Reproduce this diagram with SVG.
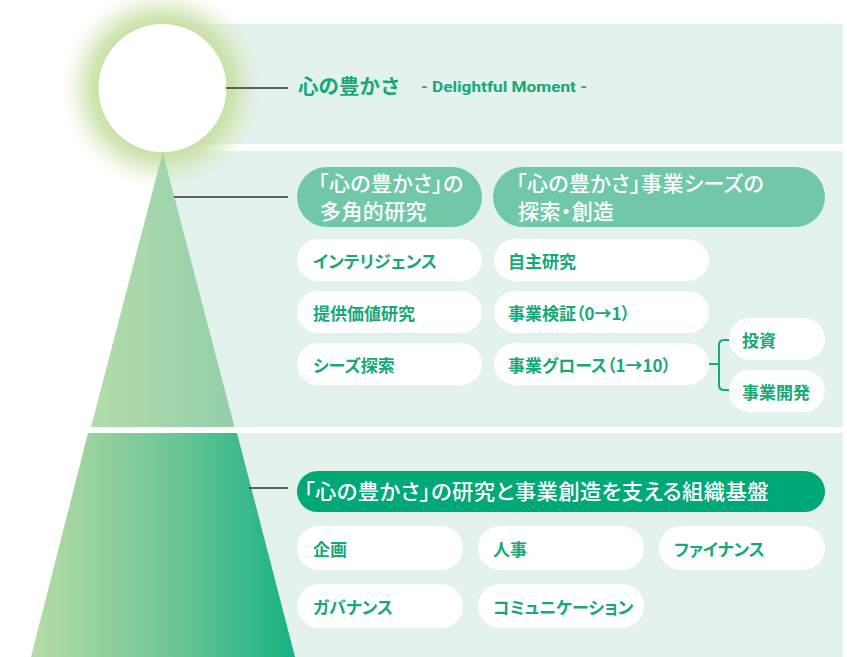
<svg xmlns="http://www.w3.org/2000/svg" width="847" height="657" viewBox="0 0 847 657">
<defs>
<radialGradient id="glow" gradientUnits="userSpaceOnUse" cx="162.5" cy="88" r="100">
<stop offset="0.6" stop-color="#c6df9f" stop-opacity="1"/>
<stop offset="0.72" stop-color="#cbe2a8" stop-opacity="0.85"/>
<stop offset="0.86" stop-color="#d6e8bb" stop-opacity="0.45"/>
<stop offset="1" stop-color="#e6f0d6" stop-opacity="0"/>
</radialGradient>
<linearGradient id="triTop" gradientUnits="userSpaceOnUse" x1="91" y1="0" x2="234" y2="0">
<stop offset="0" stop-color="#b3dcab"/>
<stop offset="1" stop-color="#93cfa9"/>
</linearGradient>
<linearGradient id="triBot" gradientUnits="userSpaceOnUse" x1="31" y1="0" x2="295" y2="0">
<stop offset="0" stop-color="#b6dca6"/>
<stop offset="0.5" stop-color="#74c796"/>
<stop offset="1" stop-color="#17b285"/>
</linearGradient>
<style>
.panel{fill:#e3f2ec}
.hdr{fill:#71c8a9}
.hdr2{fill:#00a878}
.item{fill:#ffffff}
.ht{font-family:"Noto Sans CJK JP","Noto Sans",sans-serif;font-weight:500;fill:#ffffff;font-size:21px;letter-spacing:0.4px;font-feature-settings:"palt"}
.it{font-family:"Noto Sans CJK JP","Noto Sans",sans-serif;font-weight:700;fill:#16a877;font-size:17px;dominant-baseline:central;font-feature-settings:"palt"}
.conn{stroke:#333333;stroke-width:1.3;fill:none}
.br{stroke:#16a877;stroke-width:2;fill:none}
</style>
</defs>
<g id="panels">
<rect class="panel" x="162" y="24" width="681" height="120"/>
<rect class="panel" x="162" y="151" width="681" height="276"/>
<rect class="panel" x="162" y="433" width="681" height="224"/>
</g>
<g id="pyramid">
<circle cx="162.5" cy="88" r="100" fill="url(#glow)"/>
<polygon points="162.7,152.5 234.5,427 91,427" fill="url(#triTop)"/>
<polygon points="88,433 237,433 295,657 31,657" fill="url(#triBot)"/>
<circle cx="162.5" cy="88" r="64" fill="#ffffff"/>
</g>
<g id="connectors">
<line class="conn" x1="226" y1="88" x2="288" y2="88"/>
<line class="conn" x1="174" y1="197" x2="288" y2="197"/>
<line class="conn" x1="249" y1="488" x2="288" y2="488" stroke="#666666"/>
<path class="br" d="M709,364 H719 M729,340 H724 Q719,340 719,345 V385 Q719,390 724,390 H729"/>
</g>
<g id="top-title">
<text x="298" y="94" font-family="'Noto Sans CJK JP',sans-serif" font-weight="700" font-size="20.5" fill="#16a877">心の豊かさ</text>
<text x="421" y="92" font-family="Roboto,'Noto Sans',sans-serif" font-weight="700" font-size="15" fill="#16a877" textLength="166" lengthAdjust="spacingAndGlyphs">- Delightful Moment -</text>
</g>
<g id="hdr-research">
<rect class="hdr" x="297" y="167" width="185" height="60" rx="30"/>
<text class="ht" x="318" y="191">「心の豊かさ」の</text>
<text class="ht" x="320" y="219">多角的研究</text>
</g>
<g id="hdr-business">
<rect class="hdr" x="493" y="167" width="332" height="60" rx="30"/>
<text class="ht" x="516" y="191">「心の豊かさ」事業シーズの</text>
<text class="ht" x="518" y="219">探索・創造</text>
</g>
<g id="item-intelligence"><rect class="item" x="297" y="239" width="185" height="42" rx="21"/><text class="it" x="313" y="260">インテリジェンス</text></g>
<g id="item-value"><rect class="item" x="297" y="291" width="185" height="42" rx="21"/><text class="it" x="313" y="312">提供価値研究</text></g>
<g id="item-seeds"><rect class="item" x="297" y="343" width="185" height="42" rx="21"/><text class="it" x="313" y="364">シーズ探索</text></g>
<g id="item-own"><rect class="item" x="494" y="239" width="215" height="42" rx="21"/><text class="it" x="508" y="260">自主研究</text></g>
<g id="item-verify"><rect class="item" x="494" y="291" width="215" height="42" rx="21"/><text class="it" x="508" y="312">事業検証（0→1）</text></g>
<g id="item-growth"><rect class="item" x="494" y="343" width="215" height="42" rx="21"/><text class="it" x="508" y="364">事業グロース（1→10）</text></g>
<g id="item-invest"><rect class="item" x="729" y="318" width="96" height="42" rx="21"/><text class="it" x="742" y="339">投資</text></g>
<g id="item-bizdev"><rect class="item" x="729" y="370" width="96" height="42" rx="21"/><text class="it" x="742" y="391">事業開発</text></g>
<g id="hdr-foundation">
<rect class="hdr2" x="297" y="471" width="528" height="41" rx="20.5"/>
<text class="ht" x="304" y="499" textLength="465" lengthAdjust="spacingAndGlyphs">「心の豊かさ」の研究と事業創造を支える組織基盤</text>
</g>
<g id="item-planning"><rect class="item" x="297" y="526" width="166" height="44" rx="22"/><text class="it" x="313" y="548">企画</text></g>
<g id="item-hr"><rect class="item" x="478" y="526" width="166" height="44" rx="22"/><text class="it" x="493" y="548">人事</text></g>
<g id="item-finance"><rect class="item" x="659" y="526" width="166" height="44" rx="22"/><text class="it" x="674" y="548">ファイナンス</text></g>
<g id="item-governance"><rect class="item" x="297" y="584" width="166" height="44" rx="22"/><text class="it" x="313" y="606">ガバナンス</text></g>
<g id="item-comm"><rect class="item" x="478" y="584" width="166" height="44" rx="22"/><text class="it" x="493" y="606">コミュニケーション</text></g>
</svg>
